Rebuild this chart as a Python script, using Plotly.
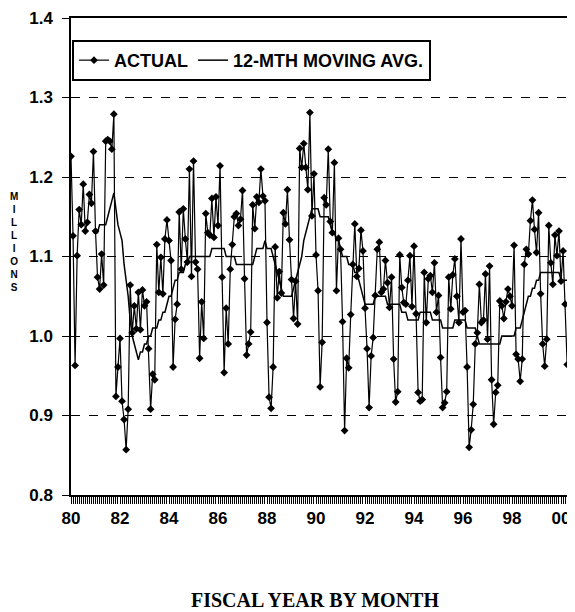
import plotly.graph_objects as go

# ---------------- data (millions), monthly from Jan 1980 ----------------
start_year = 1980
actual = [
    1.226, 1.126, 0.963, 1.101, 1.159, 1.140, 1.191, 1.132, 1.143, 1.178, 1.167, 1.232,  # 1980
    1.132, 1.074, 1.059, 1.103, 1.064, 1.245, 1.247, 1.245, 1.235, 1.279, 0.924, 0.961,  # 1981
    0.997, 0.918, 0.895, 0.857, 0.908, 1.064, 1.004, 1.038, 1.009, 1.055, 1.008, 1.058,  # 1982
    1.038, 1.043, 0.984, 0.908, 0.952, 0.945, 1.115, 1.055, 1.099, 1.053, 1.122, 1.146,  # 1983
    1.120, 1.095, 0.961, 1.021, 1.040, 1.156, 1.084, 1.160, 1.122, 1.093, 1.210, 1.075,  # 1984
    1.220, 1.093, 1.084, 0.972, 1.043, 0.997, 1.154, 1.130, 1.127, 1.173, 1.124, 1.175,  # 1985
    1.139, 1.214, 1.074, 0.954, 1.035, 0.990, 1.084, 1.115, 1.150, 1.154, 1.139, 1.147,  # 1986
    1.183, 1.072, 0.976, 0.990, 1.005, 1.165, 1.135, 1.175, 1.168, 1.210, 1.176, 1.170,  # 1987
    1.017, 0.923, 0.909, 0.961, 1.112, 1.048, 1.081, 1.054, 1.155, 1.141, 1.184, 1.121,  # 1988
    1.071, 1.022, 1.069, 1.015, 1.236, 1.212, 1.242, 1.212, 1.184, 1.281, 1.151, 1.204,  # 1989
    1.102, 1.057, 0.936, 0.992, 1.174, 1.165, 1.235, 1.144, 1.130, 1.218, 1.057, 1.123,  # 1990
    1.109, 1.018, 0.881, 0.972, 0.960, 1.027, 1.090, 1.141, 1.075, 1.085, 1.133, 1.107,  # 1991
    1.035, 0.984, 0.910, 0.975, 0.998, 1.051, 1.109, 1.118, 1.055, 1.059, 1.095, 1.067,  # 1992
    1.036, 1.074, 0.971, 0.917, 0.930, 1.102, 1.061, 1.042, 1.040, 1.070, 1.101, 1.037,  # 1993
    1.113, 1.028, 0.929, 0.918, 0.920, 1.080, 1.017, 1.072, 1.076, 1.055, 1.092, 1.030,  # 1994
    1.051, 0.973, 0.910, 0.916, 0.930, 1.074, 1.034, 1.077, 1.097, 1.050, 1.017, 1.122,  # 1995
    1.030, 1.032, 0.961, 0.860, 0.882, 0.914, 0.990, 1.004, 1.065, 1.017, 1.020, 1.078,  # 1996
    0.996, 1.088, 0.945, 0.889, 0.929, 0.938, 1.044, 1.038, 1.022, 1.043, 1.059, 1.050,  # 1997
    1.038, 1.114, 0.977, 0.971, 0.943, 0.971, 1.090, 1.109, 1.103, 1.145, 1.171, 1.134,  # 1998
    1.105, 1.155, 1.053, 0.990, 0.962, 0.996, 1.139, 1.092, 1.065, 1.127, 1.101, 1.132,  # 1999
    1.069, 1.107, 1.040, 0.964, 0.964, 1.040, 1.169, 1.100,                              # 2000
]

ma_first_month = 11  # first month that has a 12-month moving average
moving_avg = [
    1.13,                                                                    # Dec 1980
    1.13, 1.13, 1.14, 1.14, 1.14, 1.14, 1.15, 1.16, 1.17, 1.18, 1.16, 1.14,  # 1981
    1.13, 1.12, 1.09, 1.07, 1.05, 1.02, 1.00, 0.99, 0.98, 0.97, 0.98, 0.98,  # 1982
    0.99, 0.99, 1.00, 1.00, 1.01, 1.01, 1.01, 1.02, 1.02, 1.03, 1.03, 1.04,  # 1983
    1.05, 1.05, 1.06, 1.07, 1.07, 1.08, 1.08, 1.08, 1.09, 1.09, 1.10, 1.10,  # 1984
    1.10, 1.10, 1.10, 1.10, 1.10, 1.10, 1.10, 1.10, 1.10, 1.11, 1.11, 1.11,  # 1985
    1.11, 1.11, 1.11, 1.11, 1.10, 1.10, 1.10, 1.10, 1.10, 1.09, 1.09, 1.09,  # 1986
    1.09, 1.09, 1.09, 1.09, 1.09, 1.09, 1.10, 1.11, 1.11, 1.11, 1.11, 1.12,  # 1987
    1.11, 1.11, 1.11, 1.10, 1.09, 1.08, 1.07, 1.06, 1.05, 1.05, 1.05, 1.05,  # 1988
    1.05, 1.06, 1.07, 1.08, 1.09, 1.10, 1.12, 1.13, 1.14, 1.15, 1.16, 1.16,  # 1989
    1.16, 1.16, 1.15, 1.15, 1.15, 1.15, 1.15, 1.14, 1.13, 1.13, 1.12, 1.12,  # 1990
    1.11, 1.10, 1.10, 1.10, 1.09, 1.09, 1.09, 1.08, 1.08, 1.07, 1.06, 1.05,  # 1991
    1.04, 1.04, 1.04, 1.04, 1.04, 1.05, 1.05, 1.05, 1.05, 1.05, 1.05, 1.04,  # 1992
    1.04, 1.04, 1.04, 1.04, 1.04, 1.04, 1.03, 1.03, 1.03, 1.02, 1.02, 1.02,  # 1993
    1.02, 1.02, 1.02, 1.03, 1.03, 1.03, 1.03, 1.03, 1.03, 1.02, 1.02, 1.02,  # 1994
    1.02, 1.02, 1.01, 1.01, 1.01, 1.01, 1.01, 1.01, 1.02, 1.02, 1.02, 1.02,  # 1995
    1.02, 1.02, 1.01, 1.01, 1.01, 1.01, 1.01, 1.00, 0.99, 0.99, 0.99, 0.99,  # 1996
    0.99, 0.99, 0.99, 0.99, 0.99, 0.99, 0.99, 1.00, 1.00, 1.00, 1.00, 1.00,  # 1997
    1.00, 1.00, 1.01, 1.01, 1.01, 1.02, 1.03, 1.04, 1.05, 1.05, 1.06, 1.06,  # 1998
    1.07, 1.07, 1.08, 1.08, 1.08, 1.08, 1.08, 1.08, 1.08, 1.08, 1.08, 1.08,  # 1999
    1.07, 1.07, 1.07, 1.07, 1.07, 1.07, 1.07,                                # 2000
]

tick_years = [1980, 1982, 1984, 1986, 1988, 1990, 1992, 1994, 1996, 1998, 2000]
tick_labels = ["80", "82", "84", "86", "88", "90", "92", "94", "96", "98", "00"]

# x positions: fractional years for each month
x_actual = [start_year + m / 12 for m in range(len(actual))]
x_ma = [start_year + (ma_first_month + k) / 12 for k in range(len(moving_avg))]

SANS = "Liberation Sans, Arial, Helvetica, sans-serif"
SERIF = "Liberation Serif, Times New Roman, serif"

fig = go.Figure()
fig.add_trace(go.Scatter(
    x=x_actual, y=actual, mode="lines+markers", name="ACTUAL",
    line=dict(color="black", width=1.2),
    marker=dict(symbol="diamond", size=6, color="black"),
))
fig.add_trace(go.Scatter(
    x=x_ma, y=moving_avg, mode="lines", name="12-MTH MOVING AVG.",
    line=dict(color="black", width=1.5),
))

# the page body adds an 8px offset, so the figure is 8px smaller and margins shifted
fig.update_layout(
    width=567, height=604,
    margin=dict(l=63, r=0, t=10, b=117, autoexpand=False),
    plot_bgcolor="white", paper_bgcolor="white",
    showlegend=True,
    legend=dict(
        orientation="h", x=0.002, y=0.954, xanchor="left", yanchor="top",
        bordercolor="black", borderwidth=2, bgcolor="white",
        font=dict(family=SANS, size=18, color="black", weight="bold"),
        itemwidth=30, tracegroupgap=0,
    ),
    xaxis=dict(
        range=[1980, 2000.57], automargin=False,
        tickmode="array", tickvals=tick_years, ticktext=tick_labels,
        ticks="outside", ticklen=7, tickcolor="black", tickwidth=1,
        showline=True, linecolor="black", linewidth=1.5, mirror=True,
        showgrid=False, zeroline=False,
        tickfont=dict(family=SANS, size=17, color="black", weight="bold"),
        minor=dict(tick0=1980, dtick=1 / 12, ticks="outside", ticklen=7,
                   tickcolor="black", tickwidth=1, showgrid=False),
    ),
    yaxis=dict(
        range=[0.8, 1.4], tick0=0.8, dtick=0.1, tickformat=".1f", automargin=False,
        ticks="outside", ticklen=7, tickcolor="black",
        showline=True, linecolor="black", linewidth=1.5,
        showgrid=True, gridcolor="black", gridwidth=1, griddash="dash",
        zeroline=False, ticklabelstandoff=6,
        tickfont=dict(family=SANS, size=17, color="black", weight="bold"),
    ),
    annotations=[
        dict(text="M<br>I<br>L<br>L<br>I<br>O<br>N<br>S", xref="paper", yref="paper",
             x=-0.113, y=0.53, xanchor="center", yanchor="middle", showarrow=False,
             font=dict(family=SANS, size=10, color="black", weight="bold")),
        dict(text="FISCAL YEAR BY MONTH", xref="paper", yref="paper",
             x=0.484, y=-0.22, xanchor="center", yanchor="middle", showarrow=False,
             font=dict(family=SERIF, size=20, color="black", weight="bold")),
    ],
)

fig.write_html("out.html")
